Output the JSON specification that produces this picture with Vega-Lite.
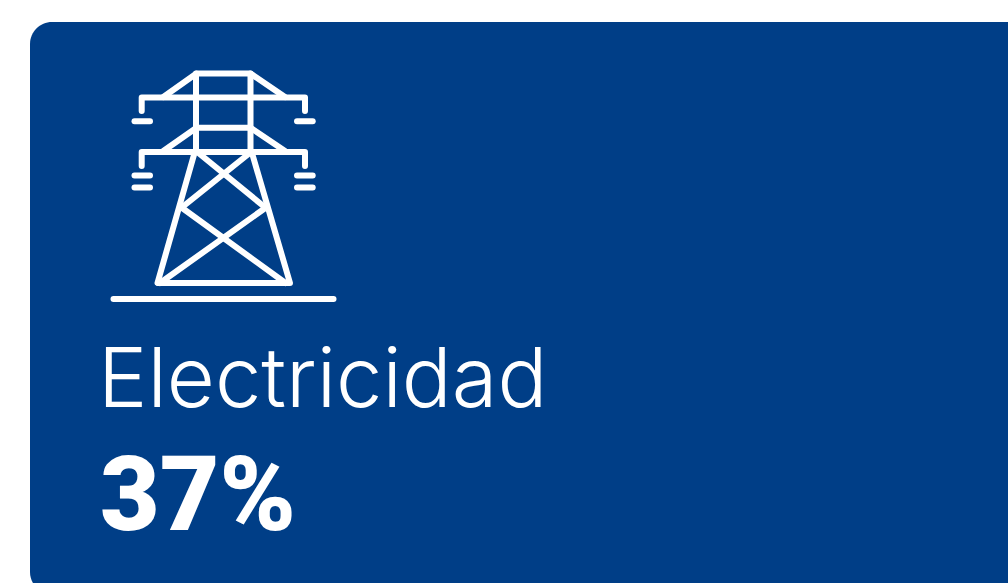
{"$schema":"https://vega.github.io/schema/vega-lite/v6.json","width":1008,"height":583,"autosize":{"type":"fit","contains":"padding"},"padding":0,"background":"#ffffff","config":{"view":{"stroke":null}},
"layer":[
{"data":{"values":[{"x0":30,"x1":1050,"y0":22,"y1":594}]},"mark":{"type":"rect","color":"#003E87","cornerRadius":22,"clip":true},"encoding":{"x":{"field":"x0","type":"quantitative","scale":{"domain":[0,1008],"nice":false,"zero":false},"axis":null},"x2":{"field":"x1"},"y":{"field":"y0","type":"quantitative","scale":{"domain":[583,0],"nice":false,"zero":false},"axis":null},"y2":{"field":"y1"}}},
{"data":{"values":[
{"id":"a","i":1,"x":163.3,"y":97},{"id":"a","i":2,"x":196.5,"y":73.5},{"id":"a","i":3,"x":250.5,"y":73.5},{"id":"a","i":4,"x":285,"y":97},
{"id":"b","i":1,"x":141.7,"y":111},{"id":"b","i":2,"x":141.7,"y":97.5},{"id":"b","i":3,"x":305,"y":97.5},{"id":"b","i":4,"x":305,"y":111},
{"id":"c","i":1,"x":196,"y":73.5},{"id":"c","i":2,"x":196,"y":152},
{"id":"d","i":1,"x":250.5,"y":73.5},{"id":"d","i":2,"x":250.5,"y":152},
{"id":"e","i":1,"x":134.5,"y":121.3},{"id":"e","i":2,"x":150,"y":121.3},
{"id":"f","i":1,"x":297,"y":121.3},{"id":"f","i":2,"x":312.7,"y":121.3},
{"id":"g","i":1,"x":163.3,"y":151},{"id":"g","i":2,"x":196.5,"y":127.7},{"id":"g","i":3,"x":250.5,"y":127.7},{"id":"g","i":4,"x":285,"y":151},
{"id":"h","i":1,"x":141.7,"y":166},{"id":"h","i":2,"x":141.7,"y":152},{"id":"h","i":3,"x":305,"y":152},{"id":"h","i":4,"x":305,"y":166},
{"id":"j","i":1,"x":134.5,"y":175.5},{"id":"j","i":2,"x":150,"y":175.5},
{"id":"k","i":1,"x":134.5,"y":187.5},{"id":"k","i":2,"x":150,"y":187.5},
{"id":"l","i":1,"x":297,"y":175.5},{"id":"l","i":2,"x":312.7,"y":175.5},
{"id":"m","i":1,"x":297,"y":187.5},{"id":"m","i":2,"x":312.7,"y":187.5},
{"id":"n","i":1,"x":194.5,"y":153},{"id":"n","i":2,"x":157.5,"y":283},{"id":"n","i":3,"x":290,"y":283},{"id":"n","i":4,"x":252,"y":153},
{"id":"o","i":1,"x":198.5,"y":153},{"id":"o","i":2,"x":264,"y":206.5},
{"id":"p","i":1,"x":248.5,"y":154},{"id":"p","i":2,"x":183,"y":206.5},
{"id":"q","i":1,"x":181.5,"y":207.5},{"id":"q","i":2,"x":285.5,"y":283},
{"id":"r","i":1,"x":266,"y":207.5},{"id":"r","i":2,"x":160,"y":283},
{"id":"s","i":1,"x":113.5,"y":299},{"id":"s","i":2,"x":333.5,"y":299}
]},"mark":{"type":"line","color":"#ffffff","strokeWidth":6,"strokeCap":"round","strokeJoin":"round"},"encoding":{"x":{"field":"x","type":"quantitative","scale":{"domain":[0,1008],"nice":false,"zero":false},"axis":null},"y":{"field":"y","type":"quantitative","scale":{"domain":[583,0],"nice":false,"zero":false},"axis":null},"detail":{"field":"id"},"order":{"field":"i","type":"quantitative"}}},
{"data":{"values":[{"x":98,"y":407,"label":"Electricidad"}]},"mark":{"type":"text","color":"#ffffff","font":"Inter","fontWeight":300,"fontSize":83,"align":"left","baseline":"alphabetic"},"encoding":{"x":{"field":"x","type":"quantitative","scale":{"domain":[0,1008],"nice":false,"zero":false},"axis":null},"y":{"field":"y","type":"quantitative","scale":{"domain":[583,0],"nice":false,"zero":false},"axis":null},"text":{"field":"label"}}},
{"data":{"values":[{"x":100,"y":530,"label":"37%"}]},"mark":{"type":"text","color":"#ffffff","font":"Roboto","fontWeight":900,"fontSize":103,"align":"left","baseline":"alphabetic"},"encoding":{"x":{"field":"x","type":"quantitative","scale":{"domain":[0,1008],"nice":false,"zero":false},"axis":null},"y":{"field":"y","type":"quantitative","scale":{"domain":[583,0],"nice":false,"zero":false},"axis":null},"text":{"field":"label"}}}
]}
